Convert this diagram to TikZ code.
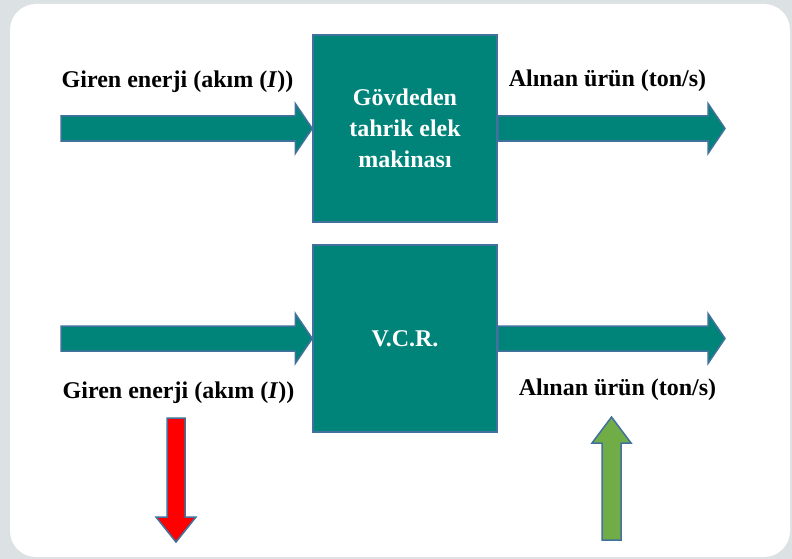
\documentclass[tikz,border=0pt]{standalone}
\usepackage{fontspec}
\setmainfont{Liberation Serif}
\usepackage{tkz-euclide}
\usetikzlibrary{calc}
\definecolor{tealbox}{RGB}{0,132,122}
\definecolor{edge}{RGB}{65,113,156}
\definecolor{panel}{RGB}{220,225,228}
\definecolor{leaf}{RGB}{112,173,71}
\tikzset{
	blockedge/.style={draw=edge,line width=1.5pt,line join=miter},
	machine/.style={blockedge,fill=tealbox,minimum width=184pt,minimum height=187pt,
		inner sep=0pt,text=white,align=center,font=\fontsize{24}{31}\selectfont\bfseries},
	flowlabel/.style={inner sep=0pt,anchor=base,font=\fontsize{24}{31}\selectfont\bfseries}
}
% block arrow: fill, from, to, shaft half width, head half width, head length
\newcommand{\blockarrow}[6]{%
	\coordinate (neck) at ($(#3)!#6!(#2)$);
	\filldraw[blockedge,fill=#1] ($(#2)!#4!90:(#3)$) -- ($(neck)!#4!90:(#3)$)
		-- ($(neck)!#5!90:(#3)$) -- (#3) -- ($(neck)!#5!-90:(#3)$)
		-- ($(neck)!#4!-90:(#3)$) -- ($(#2)!#4!-90:(#3)$) -- cycle;}

\begin{document}
\begin{tikzpicture}[x=1pt,y=-1pt]
	\useasboundingbox (0,0) rectangle (792,559);
	\fill[panel] (0,0) rectangle (792,559);
	\fill[white,rounded corners=26pt] (10,4) rectangle (790,557);
	\tkzDefPoints{61/128.5/A,725/128.5/B,61/338.5/C,725/338.5/D,176/418/E,176/542/F,611.5/540/G,611.5/417/H}
	% boxes
	\node[machine] (M) at (405,128.5) {Gövdeden\\tahrik elek\\makinası};
	\node[machine] (V) at (405,338.5) {V.C.R.};
	% arrows
	\blockarrow{tealbox}{A}{M.west}{12.5pt}{25pt}{17pt}
	\blockarrow{tealbox}{M.east}{B}{12.5pt}{25pt}{17pt}
	\blockarrow{tealbox}{C}{V.west}{12.5pt}{25pt}{17pt}
	\blockarrow{tealbox}{V.east}{D}{12.5pt}{25pt}{17pt}
	\blockarrow{red}{E}{F}{9pt}{20pt}{25pt}
	\blockarrow{leaf}{G}{H}{9.5pt}{19.5pt}{26pt}
	% labels
	\node[flowlabel] (L1) at (177.5,88) {Giren enerji (akım (\textit{I}))};
	\node[flowlabel] (L2) at (607.5,87) {Alınan ürün (ton/s)};
	\node[flowlabel] (L3) at (178.5,398) {Giren enerji (akım (\textit{I}))};
	\node[flowlabel] (L4) at (617.5,395) {Alınan ürün (ton/s)};
\end{tikzpicture}
\end{document}
